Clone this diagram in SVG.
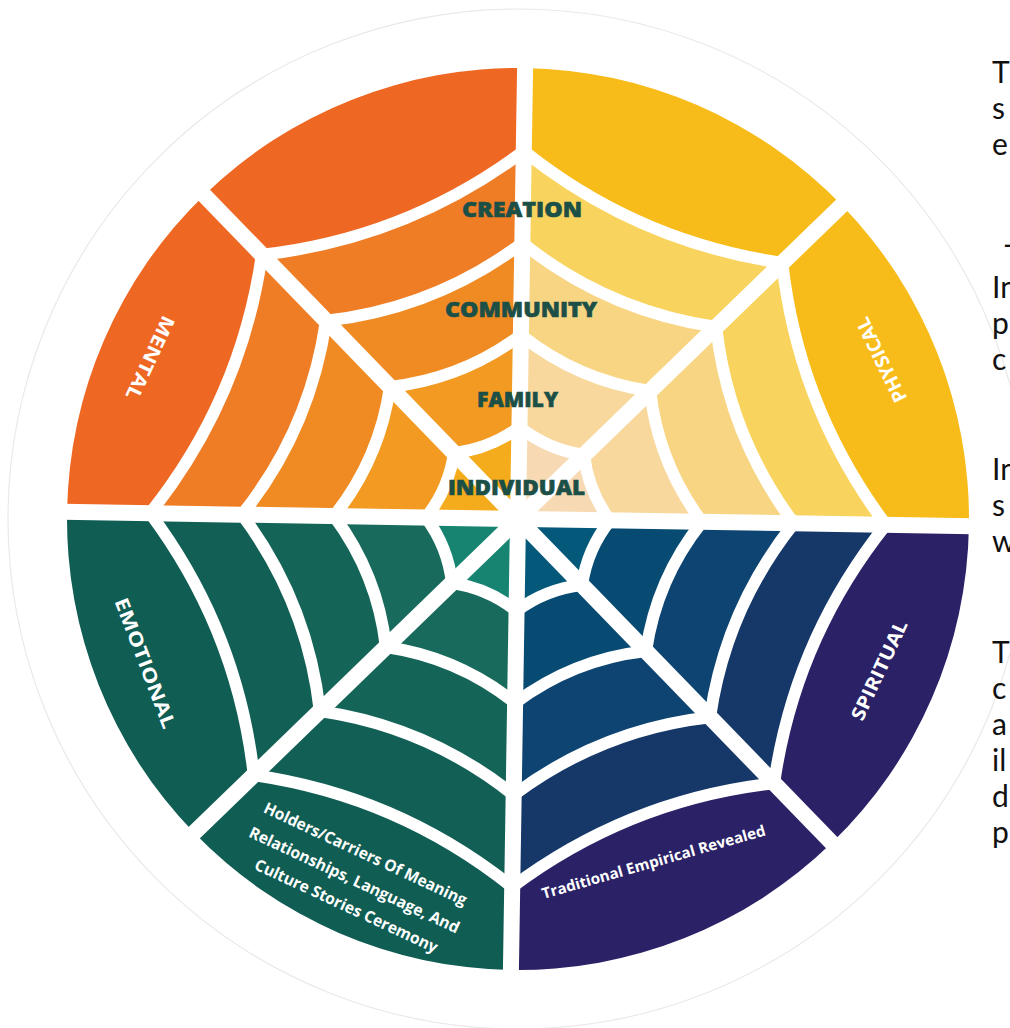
<svg xmlns="http://www.w3.org/2000/svg" width="1010" height="1028" viewBox="0 0 1010 1028">
<style>
.thread{fill:none;stroke:#fff;stroke-width:12;stroke-linejoin:round}
.spoke{stroke:#fff;stroke-width:16}
.lvl{font-family:"Open Sans","Liberation Sans",sans-serif;font-weight:800;font-size:21px;fill:#1C5047;stroke:#1C5047;stroke-width:0.6;text-anchor:middle}
.quad{font-family:"Open Sans","Liberation Sans",sans-serif;font-weight:700;font-size:19px;fill:#fff;text-anchor:middle}
.small{font-family:"Open Sans","Liberation Sans",sans-serif;font-weight:700;font-size:16px;fill:#fff;text-anchor:middle}
.side{font-family:Lato,"Liberation Sans",sans-serif;font-size:30px;fill:#111}
</style>
<defs>
<path id="r1" d="M 92,0 Q 69.70,28.87 65.05,65.05 Q 28.87,69.70 0,92 Q -28.87,69.70 -65.05,65.05 Q -69.70,28.87 -92,0 Q -69.70,-28.87 -65.05,-65.05 Q -28.87,-69.70 0,-92 Q 28.87,-69.70 65.05,-65.05 Q 69.70,-28.87 92,0 Z"/>
<path id="r2" d="M 184,0 Q 139.39,57.74 130.11,130.11 Q 57.74,139.39 0,184 Q -57.74,139.39 -130.11,130.11 Q -139.39,57.74 -184,0 Q -139.39,-57.74 -130.11,-130.11 Q -57.74,-139.39 0,-184 Q 57.74,-139.39 130.11,-130.11 Q 139.39,-57.74 184,0 Z"/>
<path id="r3" d="M 276,0 Q 209.09,86.61 195.16,195.16 Q 86.61,209.09 0,276 Q -86.61,209.09 -195.16,195.16 Q -209.09,86.61 -276,0 Q -209.09,-86.61 -195.16,-195.16 Q -86.61,-209.09 0,-276 Q 86.61,-209.09 195.16,-195.16 Q 209.09,-86.61 276,0 Z"/>
<path id="r4" d="M 368,0 Q 278.79,115.48 260.22,260.22 Q 115.48,278.79 0,368 Q -115.48,278.79 -260.22,260.22 Q -278.79,115.48 -368,0 Q -278.79,-115.48 -260.22,-260.22 Q -115.48,-278.79 0,-368 Q 115.48,-278.79 260.22,-260.22 Q 278.79,-115.48 368,0 Z"/>
<clipPath id="cTL"><rect x="-500" y="-500" width="500" height="500"/></clipPath>
<clipPath id="cTR"><rect x="0" y="-500" width="500" height="500"/></clipPath>
<clipPath id="cBL"><rect x="-500" y="0" width="500" height="500"/></clipPath>
<clipPath id="cBR"><rect x="0" y="0" width="500" height="500"/></clipPath>
</defs>
<rect width="1010" height="1028" fill="#fff"/>
<circle cx="518" cy="519" r="510" fill="#fff" stroke="#e9e9e9" stroke-width="1.2"/>
<g id="web" transform="translate(518,519) rotate(0.9)">
  <g id="mental-quadrant" clip-path="url(#cTL)">
    <circle r="451" fill="#EE6824"/>
    <use href="#r4" fill="#EF7D26"/>
    <use href="#r3" fill="#F08B24"/>
    <use href="#r2" fill="#F29A21"/>
    <use href="#r1" fill="#F5AC1C"/>
  </g>
  <g id="physical-quadrant" clip-path="url(#cTR)">
    <circle r="451" fill="#F7BC1A"/>
    <use href="#r4" fill="#F8D35E"/>
    <use href="#r3" fill="#F8D582"/>
    <use href="#r2" fill="#F8D89C"/>
    <use href="#r1" fill="#F7DAB3"/>
  </g>
  <g id="emotional-quadrant" clip-path="url(#cBL)">
    <circle r="451" fill="#0F5D53"/>
    <use href="#r4" fill="#125F55"/>
    <use href="#r3" fill="#146457"/>
    <use href="#r2" fill="#176A5C"/>
    <use href="#r1" fill="#168470"/>
  </g>
  <g id="spiritual-quadrant" clip-path="url(#cBR)">
    <circle r="451" fill="#2A2166"/>
    <use href="#r4" fill="#153869"/>
    <use href="#r3" fill="#0E4471"/>
    <use href="#r2" fill="#074B73"/>
    <use href="#r1" fill="#04587A"/>
  </g>
  <g id="connectors">
    <use href="#r1" class="thread"/>
    <use href="#r2" class="thread"/>
    <use href="#r3" class="thread"/>
    <use href="#r4" class="thread"/>
    <line class="spoke" x1="-470" y1="0" x2="470" y2="0"/>
    <line class="spoke" x1="0" y1="-470" x2="0" y2="470"/>
    <line class="spoke" x1="-340" y1="-340" x2="340" y2="340"/>
    <line class="spoke" x1="-340" y1="340" x2="340" y2="-340"/>
  </g>
</g>
<g id="levels">
  <text class="lvl" x="522" y="217" textLength="120" lengthAdjust="spacingAndGlyphs">CREATION</text>
  <text class="lvl" x="521" y="317" textLength="152" lengthAdjust="spacingAndGlyphs">COMMUNITY</text>
  <text class="lvl" x="517.5" y="407" textLength="81" lengthAdjust="spacingAndGlyphs">FAMILY</text>
  <text class="lvl" x="516.5" y="495" textLength="137" lengthAdjust="spacingAndGlyphs">INDIVIDUAL</text>
</g>
<g id="mental"><text class="quad" transform="translate(150.5,358) rotate(115)" y="7" textLength="90" lengthAdjust="spacingAndGlyphs">MENTAL</text></g>
<g id="physical"><text class="quad" transform="translate(881,360) rotate(-116)" y="7" textLength="92" lengthAdjust="spacingAndGlyphs">PHYSICAL</text></g>
<g id="spiritual"><text class="quad" transform="translate(879,670) rotate(-65)" y="7" textLength="108" lengthAdjust="spacingAndGlyphs">SPIRITUAL</text></g>
<g id="emotional"><text class="quad" transform="translate(145.5,663) rotate(69)" y="7" textLength="138" lengthAdjust="spacingAndGlyphs">EMOTIONAL</text></g>
<g id="holders">
  <text class="small" transform="translate(363,859) rotate(25)" textLength="222" lengthAdjust="spacingAndGlyphs">Holders/Carriers Of Meaning</text>
  <text class="small" transform="translate(352,885) rotate(25)" textLength="230" lengthAdjust="spacingAndGlyphs">Relationships, Language, And</text>
  <text class="small" transform="translate(344,911) rotate(25)" textLength="200" lengthAdjust="spacingAndGlyphs">Culture Stories Ceremony</text>
</g>
<g id="traditional">
  <text class="small" style="font-size:15px" transform="translate(655,867) rotate(-16)" textLength="232" lengthAdjust="spacingAndGlyphs">Traditional Empirical Revealed</text>
</g>
<g id="side-text">
  <text class="side" x="992" y="83">T</text>
  <text class="side" x="992" y="119">s</text>
  <text class="side" x="992" y="155">e</text>
  <text class="side" x="1003" y="255">-</text>
  <text class="side" x="992" y="298">In</text>
  <text class="side" x="992" y="334">p</text>
  <text class="side" x="992" y="370">c</text>
  <text class="side" x="992" y="480">In</text>
  <text class="side" x="992" y="516">s</text>
  <text class="side" x="992" y="552">w</text>
  <text class="side" x="992" y="663">T</text>
  <text class="side" x="992" y="699">c</text>
  <text class="side" x="992" y="735">a</text>
  <text class="side" x="992" y="771">il</text>
  <text class="side" x="992" y="807">d</text>
  <text class="side" x="992" y="843">p</text>
</g>
</svg>
